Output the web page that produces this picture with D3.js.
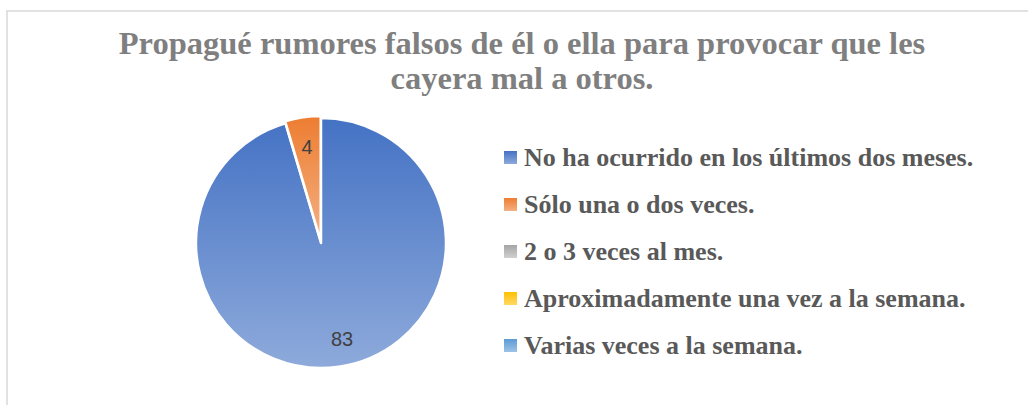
<!DOCTYPE html>
<html>
<head>
<meta charset="utf-8">
<script src="https://cdn.jsdelivr.net/npm/d3@7"></script>
<style>
  body { margin: 0; background: #fff; }
  svg { display: block; }
</style>
</head>
<body>
<script>
  const width = 1028;
  const height = 405;

  // Chart data
  const titleLines = ["Propagué rumores falsos de él o ella para provocar que les", "cayera mal a otros."];
  const categories = [
    "No ha ocurrido en los últimos dos meses.",
    "Sólo una o dos veces.",
    "2 o 3 veces al mes.",
    "Aproximadamente una vez a la semana.",
    "Varias veces a la semana."
  ];
  const values = [83, 4, 0, 0, 0];
  const colorsTop = ["#4472c4", "#ed7d31", "#a5a5a5", "#ffc000", "#5b9bd5"];
  const colorsBottom = ["#8eaadb", "#f4b183", "#d0d0d0", "#ffd966", "#9dc3e6"];

  const svg = d3.select("body")
    .append("svg")
    .attr("width", width)
    .attr("height", height);

  // Gradients, one per category
  const defs = svg.append("defs");
  categories.forEach((c, i) => {
    const g = defs.append("linearGradient")
      .attr("id", "grad" + i)
      .attr("x1", 0).attr("y1", 0)
      .attr("x2", 0).attr("y2", 1);
    g.append("stop").attr("offset", "0%").attr("stop-color", colorsTop[i]);
    g.append("stop").attr("offset", "100%").attr("stop-color", colorsBottom[i]);
  });

  // Chart border
  svg.append("rect")
    .attr("x", 7)
    .attr("y", 11)
    .attr("width", 1040)
    .attr("height", 420)
    .attr("fill", "none")
    .attr("stroke", "#d9d9d9")
    .attr("stroke-width", 1.5);

  // Title
  svg.append("text")
    .attr("text-anchor", "middle")
    .attr("font-family", "'Liberation Serif', 'Times New Roman', serif")
    .attr("font-weight", "bold")
    .attr("font-size", 32.5)
    .attr("fill", "#7f7f7f")
    .selectAll("tspan")
    .data(titleLines)
    .enter()
    .append("tspan")
    .attr("x", 522)
    .attr("y", (d, i) => 54 + i * 35)
    .text(d => d);

  // Pie
  const cx = 321, cy = 243, radius = 125;
  const pie = d3.pie().sort(null).value(d => d);
  const arcs = pie(values);
  const arc = d3.arc().innerRadius(0).outerRadius(radius);
  const explode = [0, 2, 0, 0, 0];

  const pieG = svg.append("g").attr("transform", `translate(${cx},${cy})`);

  pieG.selectAll("path")
    .data(arcs.filter(d => d.value > 0))
    .enter()
    .append("path")
    .attr("d", arc)
    .attr("transform", d => {
      const mid = (d.startAngle + d.endAngle) / 2;
      const e = explode[d.index];
      return `translate(${Math.sin(mid) * e},${-Math.cos(mid) * e})`;
    })
    .attr("fill", d => `url(#grad${d.index})`)
    .attr("stroke", "#fff")
    .attr("stroke-width", 2.5)
    .attr("stroke-linejoin", "round");

  // Data labels
  const labelArc = d3.arc().innerRadius(radius * 0.78).outerRadius(radius * 0.78);
  pieG.selectAll("text")
    .data(arcs.filter(d => d.value > 0))
    .enter()
    .append("text")
    .attr("transform", d => {
      const p = labelArc.centroid(d);
      return `translate(${p[0]},${p[1]})`;
    })
    .attr("text-anchor", "middle")
    .attr("dx", d => d.index === 0 ? 7 : 0)
    .attr("dy", "0.35em")
    .attr("font-family", "'Liberation Sans', Arial, sans-serif")
    .attr("font-size", 20)
    .attr("fill", "#404040")
    .text(d => d.value);

  // Legend
  const legend = svg.selectAll("g.legend")
    .data(categories)
    .enter()
    .append("g")
    .attr("class", "legend")
    .attr("transform", (d, i) => `translate(504, ${157 + i * 47})`);

  legend.append("rect")
    .attr("x", 0)
    .attr("y", -6)
    .attr("width", 13)
    .attr("height", 13)
    .attr("fill", (d, i) => `url(#grad${i})`);

  legend.append("text")
    .attr("x", 20)
    .attr("y", 0)
    .attr("dy", "0.35em")
    .attr("font-family", "'Liberation Serif', 'Times New Roman', serif")
    .attr("font-weight", "bold")
    .attr("font-size", 26)
    .attr("fill", "#595959")
    .text(d => d);
</script>
</body>
</html>
